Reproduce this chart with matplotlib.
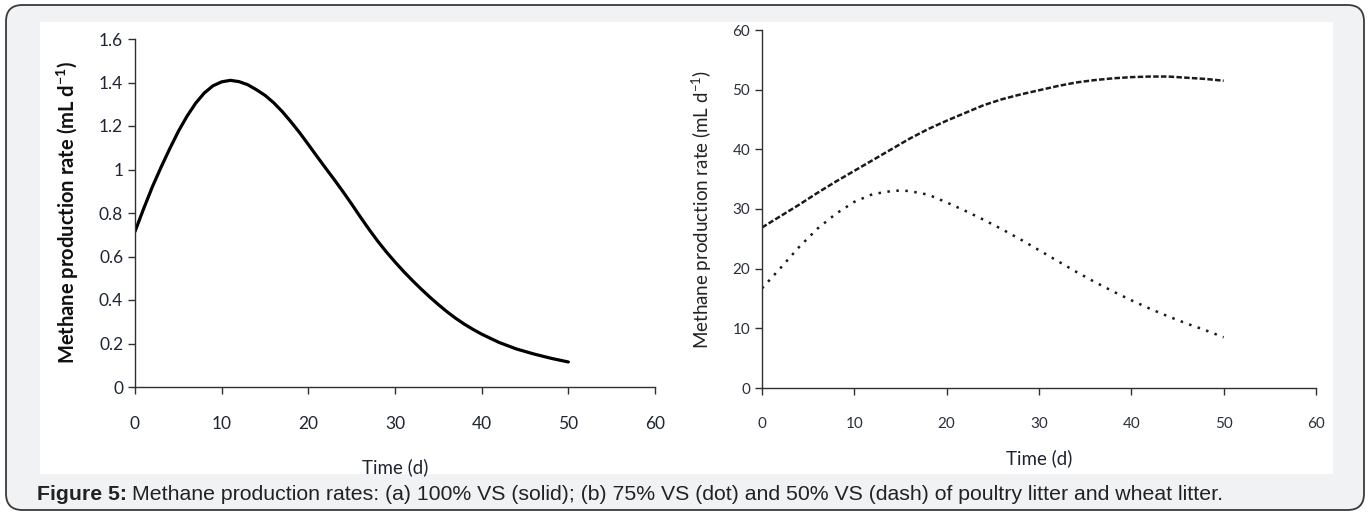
import matplotlib
matplotlib.use("Agg")
import matplotlib.pyplot as plt
from matplotlib.patches import FancyBboxPatch, Rectangle

# --- data ---
# (a) 100% VS, solid
t_a = [0, 1, 2, 3, 4, 5, 6, 7, 8, 9, 10, 11, 12, 13, 14, 15, 16, 17, 18, 19, 20, 21, 22, 23, 24, 25,
       26, 27, 28, 29, 30, 31, 32, 33, 34, 35, 36, 37, 38, 39, 40, 42, 44, 46, 48, 50]
rate_100 = [0.715, 0.82, 0.92, 1.01, 1.095, 1.175, 1.245, 1.305, 1.352, 1.385, 1.403, 1.41, 1.404, 1.39,
            1.367, 1.341, 1.307, 1.266, 1.219, 1.169, 1.115, 1.06, 1.006, 0.953, 0.898, 0.841, 0.782, 0.725,
            0.671, 0.621, 0.575, 0.531, 0.49, 0.451, 0.414, 0.379, 0.346, 0.316, 0.289, 0.265, 0.243, 0.205,
            0.175, 0.152, 0.132, 0.115]

# (b) 75% VS, dotted
t_b = [0, 2, 4, 6, 8, 10, 12, 14, 15, 16, 18, 20, 22, 24, 26, 28, 30, 32, 34, 36, 38, 40, 42, 44, 46, 48, 50]
rate_75 = [16.7, 20.1, 23.6, 26.7, 29.2, 31.2, 32.5, 33.0, 33.1, 33.0, 32.4, 31.1, 29.7, 28.2, 26.6, 24.9,
           23.1, 21.3, 19.5, 17.8, 16.2, 14.7, 13.3, 12.0, 10.8, 9.7, 8.5]

# (b) 50% VS, dashed
t_c = [0, 2, 4, 6, 8, 10, 12, 14, 16, 18, 20, 22, 24, 26, 28, 30, 32, 34, 36, 38, 40, 42, 44, 46, 48, 50]
rate_50 = [26.9, 28.8, 30.7, 32.7, 34.6, 36.4, 38.2, 40.0, 41.8, 43.4, 44.8, 46.1, 47.4, 48.4, 49.2, 49.9,
           50.6, 51.2, 51.6, 51.9, 52.1, 52.2, 52.2, 52.0, 51.8, 51.5]

xticks = [0, 10, 20, 30, 40, 50, 60]
yticks_a = [0, 0.2, 0.4, 0.6, 0.8, 1, 1.2, 1.4, 1.6]
ytick_labels_a = ['0', '0.2', '0.4', '0.6', '0.8', '1', '1.2', '1.4', '1.6']
yticks_b = [0, 10, 20, 30, 40, 50, 60]

AXFONT = ['Lato', 'DejaVu Sans']
plt.rcParams['font.family'] = ['Liberation Sans', 'DejaVu Sans']
plt.rcParams['mathtext.fontset'] = 'custom'
plt.rcParams['mathtext.rm'] = 'Lato'
plt.rcParams['mathtext.bf'] = 'Lato:bold'

W, H = 1370, 516
fig = plt.figure(figsize=(W / 100, H / 100), dpi=100)
fig.patch.set_facecolor('white')

# rounded grey card + white chart panel (behind the axes)
card = FancyBboxPatch((6 / W, 6 / H), 1358 / W, 505 / H, boxstyle="round,pad=0,rounding_size=0.012",
                      transform=fig.transFigure, facecolor='#f1f2f4', edgecolor='#3a3a3a', linewidth=1.3,
                      mutation_aspect=W / H, zorder=-10)
fig.patches.append(card)
fig.patches.append(Rectangle((40 / W, 1 - 474 / H), 1293 / W, 452 / H, transform=fig.transFigure,
                             facecolor='white', edgecolor='none', zorder=-9))


def style_axes(ax):
    for s in ['top', 'right']:
        ax.spines[s].set_visible(False)
    for s in ['left', 'bottom']:
        ax.spines[s].set_color('#303030')
        ax.spines[s].set_linewidth(1.0)
    ax.tick_params(direction='out', color='#303030', length=5, width=1.0)
    ax.set_facecolor('none')


# (a) 100% VS
ax1 = fig.add_axes([135 / W, 1 - 387 / H, 520 / W, 348 / H])
style_axes(ax1)
ax1.plot(t_a, rate_100, color='black', linewidth=2.3, solid_capstyle='round', solid_joinstyle='round')
ax1.set_xlim(0, 60)
ax1.set_ylim(0, 1.6)
ax1.set_xticks(xticks)
ax1.set_yticks(yticks_a)
ax1.set_yticklabels(ytick_labels_a)
ax1.tick_params(axis='x', pad=16)
for lbl in ax1.get_xticklabels() + ax1.get_yticklabels():
    lbl.set_family(AXFONT)
    lbl.set_fontsize(12.5)
    lbl.set_color('#1e2433')
ax1.set_xlabel('Time (d)', family=AXFONT, fontsize=13.5, color='#1e2433', labelpad=19)
ax1.set_ylabel(r'Methane production rate (mL d$^{\mathbf{-1}}$)', family=AXFONT, fontsize=14.5,
               fontweight='bold', color='#111111', labelpad=13)

# (b) 75% VS (dot) and 50% VS (dash)
ax2 = fig.add_axes([762 / W, 1 - 388 / H, 554 / W, 358 / H])
style_axes(ax2)
ax2.plot(t_b, rate_75, color='#1a1a1a', linewidth=1.8, linestyle=(0, (1, 2.6)))
ax2.plot(t_c, rate_50, color='#1a1a1a', linewidth=1.8, linestyle=(0, (2.2, 0.9)))
ax2.set_xlim(0, 60)
ax2.set_ylim(0, 60)
ax2.set_xticks(xticks)
ax2.set_yticks(yticks_b)
ax2.tick_params(axis='x', pad=16)
for lbl in ax2.get_xticklabels() + ax2.get_yticklabels():
    lbl.set_family(AXFONT)
    lbl.set_fontsize(11)
    lbl.set_color('#2a2f3a')
ax2.set_xlabel('Time (d)', family=AXFONT, fontsize=13.5, color='#1e2433', labelpad=13)
ax2.set_ylabel('Methane production rate (mL d$^{-1}$)', family=AXFONT, fontsize=13.5, color='#222222',
               labelpad=13)

# caption: bold lead-in followed by regular text
lead = fig.text(37 / W, 1 - 494 / H, 'Figure 5:', fontsize=15.3, fontweight='bold', color='#222222',
                va='center')
fig.canvas.draw()
bb = lead.get_window_extent(renderer=fig.canvas.get_renderer())
fig.text((bb.x1 + 5) / W, 1 - 494 / H,
         'Methane production rates: (a) 100% VS (solid); (b) 75% VS (dot) and 50% VS (dash) of poultry litter and wheat litter.',
         fontsize=15.3, color='#222222', va='center')

fig.savefig('out.png', dpi=100, facecolor=fig.get_facecolor())
